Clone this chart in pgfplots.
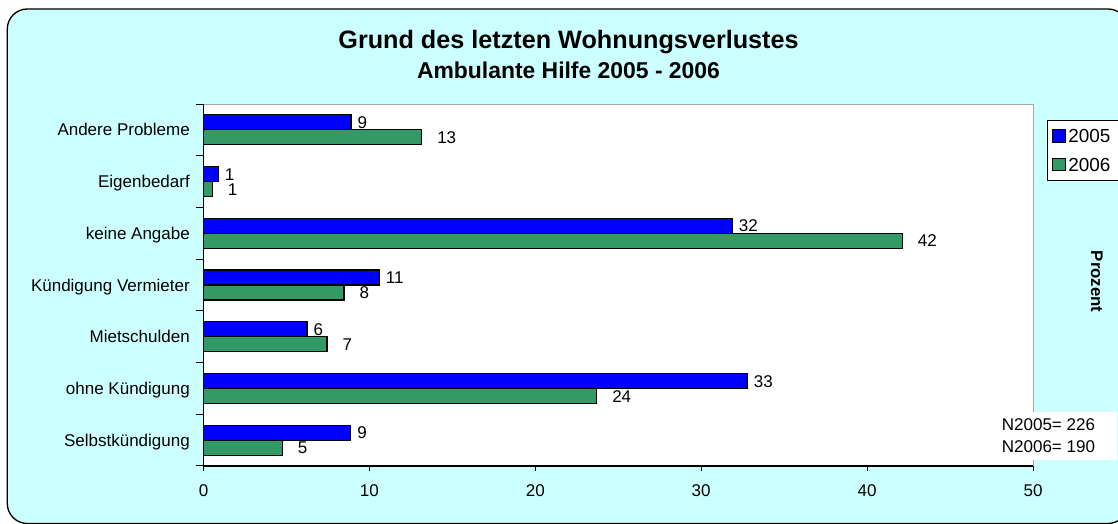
\documentclass[border=0pt]{standalone}
\usepackage{fontspec}
\setmainfont{Liberation Sans}
\usepackage{pgfplots}
\pgfplotsset{compat=1.18}
\definecolor{bgcyan}{HTML}{CCFFFF}
\definecolor{bblue}{HTML}{0000FF}
\definecolor{bgreen}{HTML}{339966}
\begin{document}
\begin{tikzpicture}
\useasboundingbox (0,0) rectangle (1118bp,524bp);
\draw[fill=bgcyan, line width=1.3bp, rounded corners=20bp] (7.3bp,0.5bp) rectangle (1128bp,515bp);
\node[font=\bfseries\fontsize{25.2bp}{30bp}\selectfont, anchor=base] at (568.5bp,475.7bp) {Grund des letzten Wohnungsverlustes};
\node[font=\bfseries\fontsize{22.9bp}{27bp}\selectfont, anchor=base] at (568.5bp,445bp) {Ambulante Hilfe 2005 - 2006};
\begin{axis}[
  at={(203.5bp,58bp)}, anchor=south west, scale only axis,
  width=829.5bp, height=362bp,
  xmin=0, xmax=50, ymin=-0.5, ymax=6.5,
  clip=false,
  /pgf/number format/assume math mode=true,
  axis background/.style={fill=white},
  axis line style={draw=gray!70, line width=1bp},
  tick pos=left, tick align=outside,
  xtick={0,10,...,50},
  ytick={0,...,6},
  yticklabels={Selbstkündigung, ohne Kündigung\ , Mietschulden, Kündigung Vermieter, keine Angabe, Eigenbedarf, Andere Probleme},
  minor ytick={-0.5,0.5,...,6.5},
  every major y tick/.append style={draw=none},
  every minor y tick/.append style={draw=black, line width=1bp},
  every major x tick/.append style={draw=black, line width=1bp},
  minor tick length=7bp,
  major tick length=5bp,
  ticklabel style={font=\fontsize{17bp}{20bp}\selectfont, inner sep=0pt},
  xticklabel style={anchor=north, yshift=-13bp, text height=12.2bp, text depth=0pt},
  yticklabel style={anchor=east, xshift=-8.5bp, text height=12.2bp, text depth=0pt},
  legend style={at={(1.01688,0.9558)}, anchor=north west, draw=black, line width=0.8bp,
    fill=white, font=\fontsize{18.9bp}{22bp}\selectfont, inner xsep=5bp, inner ysep=6.2bp,
    row sep=10.2bp, nodes={inner sep=2.5bp, font=\fontsize{18.9bp}{22bp}\selectfont, text height=13.5bp, text depth=0pt}},
  legend cell align=left,
  legend image code/.code={\draw[#1, line width=1bp] (0bp,-6.2bp) rectangle (12.5bp,6.2bp);},
]
\addplot[xbar, bar width=0.29, bar shift=0.145, fill=bblue, draw=black, line width=1.2bp,
  point meta=explicit symbolic, nodes near coords,
  every node near coord/.append style={anchor=west, inner sep=0pt, xshift=6bp, yshift=7.5bp, text=black,
    font=\fontsize{17bp}{20bp}\selectfont, text height=12.2bp, text depth=0pt}]
  coordinates {(8.87,0)[9] (32.78,1)[33] (6.24,2)[6] (10.6,3)[11] (31.88,4)[32] (0.89,5)[1] (8.89,6)[9]};
\addplot[xbar, bar width=0.29, bar shift=-0.145, fill=bgreen, draw=black, line width=1.2bp,
  point meta=explicit symbolic, nodes near coords,
  every node near coord/.append style={anchor=west, inner sep=0pt, xshift=15bp, yshift=-7.5bp, text=black,
    font=\fontsize{17bp}{20bp}\selectfont, text height=12.2bp, text depth=0pt}]
  coordinates {(4.75,0)[5] (23.7,1)[24] (7.44,2)[7] (8.47,3)[8] (42.12,4)[42] (0.53,5)[1] (13.15,6)[13]};
\legend{2005,2006}
\draw[black, line width=1.2bp] (rel axis cs:0,1) -- (rel axis cs:0,0) -- (rel axis cs:1,0);
\end{axis}
\node[rotate=-90, font=\bfseries\fontsize{16.8bp}{20bp}\selectfont] at (1096.7bp,242.3bp) {Prozent};
\fill[white] (997bp,64bp) rectangle (1117bp,112.3bp);
\node[anchor=west, align=left, inner sep=0pt, font=\fontsize{17bp}{21.7bp}\selectfont] at (1001.7bp,88.15bp) {N2005= 226\\N2006= 190};
\end{tikzpicture}
\end{document}
